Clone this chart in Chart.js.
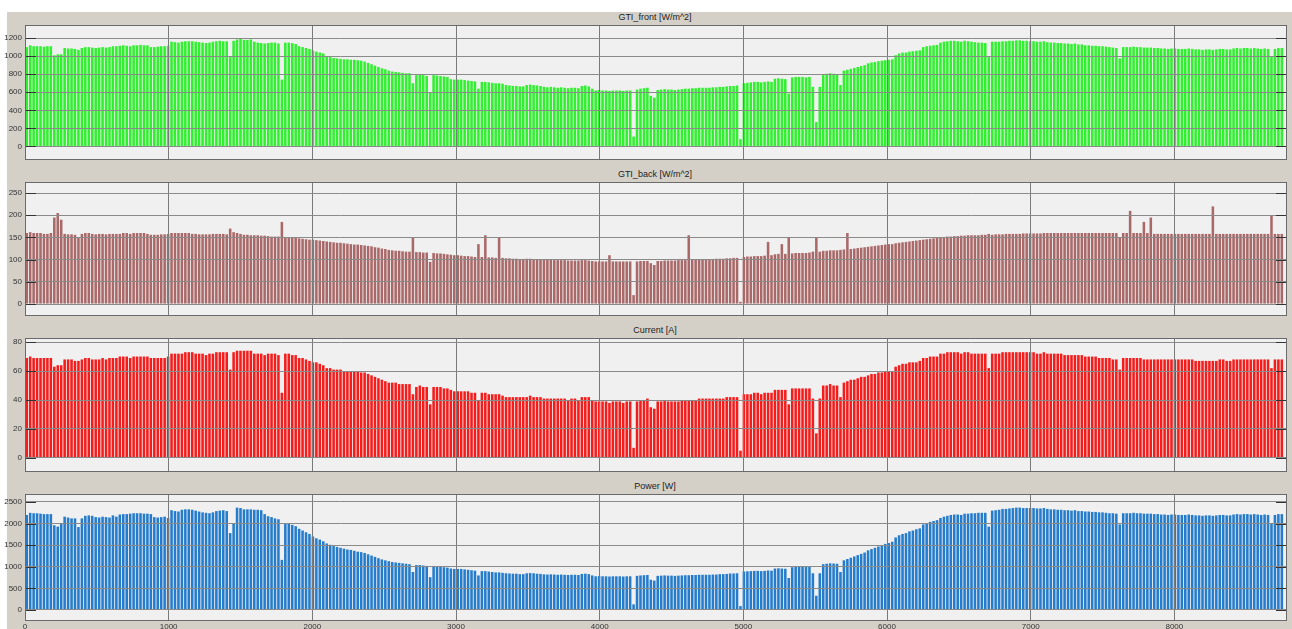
<!DOCTYPE html>
<html>
<head>
<meta charset="utf-8">
<title>GTI / Current / Power</title>
<script src="https://cdn.jsdelivr.net/npm/chart.js@4.4.1/dist/chart.umd.min.js"></script>
<style>
  html, body { margin: 0; padding: 0; background: #fff; width: 1292px; height: 629px; overflow: hidden; }
  #fig { position: absolute; left: 7px; top: 12px; width: 1285px; height: 617px; background: #d4d0c8; }
  .panel-title { position: absolute; left: 7px; width: 1296px; text-align: center; line-height: 10px;
                 font: 9px "Liberation Sans", Arial, sans-serif; color: #222; }
  canvas { position: absolute; left: 0; }
</style>
</head>
<body>
<div id="fig"></div>
<script>
// Daily peak values (365 days)
const gtiFront = [
  1100,1120,1110,1110,1110,1105,1110,1110, 1010,1020,1020, 1090,1085,1085,1080,1070,
  1090,1100,1100,1095,1090,1095,1100, 1095,1100,1110,1110,1115,1120,1115,1110,
  1120,1120,1125,1120,1120, 1100,1100,1105,1110,1110,1115,
  1160,1155,1150,1160,1165,1165,1165, 1160,1155,1150,1145,1150,1160,1165,1170,1165,1165, 990,
  1170,1185,1190,1180,1180,1185, 1160,1150,1145,1140,1145,1150,1150,1140, 740,
  1150,1150,1145,1135, 1110,1100,1090,1080, 1060,1050,1040,1030, 1000,990,980,975,
  970,965,965,960,960,955,950, 940,925,910,895,880,865,855, 840,830,825,820,815,810,810, 700,
  790,795,790,780, 600, 790,785,780,775,770, 745,740,740,740,735,730,725,720, 640,
  715,715,710,705,700,700,695, 680,675,670,670,665,665, 680,685,680,675,670,
  660,655,660,655,650,655,650,645,650,650,645, 670,675,665, 640,
  620,625,620,620,615,620,620,620,615,620,620, 110, 630,640,645,650, 560,540, 625,630,635,630,
  630,625,630,635,640,640,645,645,650,650,650,650,655,655,660,660,665,670,670,675, 80,
  700,705,710,715,715,710,715,720,715, 750,755,750,745, 585, 765,770,770,770,765,770,
  660,270,660, 800,805,810,805,800, 680, 840,850,860,870,880,890,900,
  920,930,935,945,950,955,960,965, 1010,1030,1040,1040,1050,1055,1060,1065,
  1100,1110,1115,1120,1125, 1150,1160,1165,1170,1170,1165,1160,1170,1165,
  1160,1155,1150,1150,1145, 990, 1160,1160,1160,1165,1165,1170,1170,1175,1175,1170,1170,
  1165,1165,1160,1160,1165,1155,1150, 1150,1145,1145,1140,1140,1135,1140,1130,1130,
  1120,1120,1115,1115,1110,1110,1105,1100, 1095,1090, 975,
  1100,1100,1100,1105,1100,1100,1095,1095,
  1095,1090,1090,1085,1085,1080,1085,1085,1080,1080,1080,1085,1080,1075,
  1075,1070,1075,1075,1070,1075,1080,1080,1075,1075,
  1085,1090,1085,1090,1090,1085,1090,1085,1080,1085,1080, 990, 1080,1090,1090
];

const gtiBack = [
  160,162,160,160,160,158,158,160, 195,205,190, 158,157,157,156,150,
  158,160,160,158,157,158,158, 157,158,158,158,158,160,160,158,
  160,160,160,160,158, 156,156,156,157,157,158,
  160,160,160,160,160,160,158, 158,157,157,157,157,158,158,158,158,157, 170,
  162,160,158,156,156,155, 155,155,154,154,153,152,152,152, 185,
  150,150,150,150, 148,147,146,145, 145,144,143,142, 141,140,139,138,
  138,137,136,135,134,134,133, 132,131,130,128,127,125,124, 122,121,120,120,119,118,118, 150,
  117,117,116,116, 95, 115,114,114,113,112, 111,110,110,109,108,108,107,106, 135,
  106,155,105,105,104,150,104, 103,103,102,102,101,101, 102,102,101,101,100,
  100,100,100,99,99,99,99,98,98,98,98, 99,99,98, 97,
  96,96,96,96,110,96,96,96,96,96,96, 20, 96,97,97,97, 92,88, 97,97,98,98,
  98,98,99,99,99,155,100,100,100,100,101,101,101,102,102,102,103,103,104,104, 5,
  106,107,107,108,108,108,109,140,110, 112,113,135,113, 150, 114,115,115,115,115,116,
  118,150,118, 120,120,121,121,121, 122, 123,160,124,125,126,127,128,
  129,130,131,132,133,134,135,135, 137,138,139,140,141,142,143,144,
  145,146,147,148,149, 150,151,152,152,153,153,154,154,155,
  155,155,155,156,156, 158, 156,157,157,157,158,158,158,158,158,159,159,
  159,159,159,159,160,160,160, 160,160,160,160,160,160,160,160,160,
  160,160,160,160,160,160,160,160, 160,160, 150,
  160,160,210,160,160,160,185,160,
  195,158,158,158,158,158,158,158,158,158,158,158,158,158,
  158,158,158,158,220,158,158,158,158,158,
  158,158,158,158,158,158,158,158,158,158,158, 200, 158,158,158
];

const current = [
  69,70,69,69,69,69,69,69, 63,64,64, 68,68,68,67,67,
  68,69,69,68,68,68,69, 68,69,69,69,70,70,70,69,
  70,70,70,70,70, 69,69,69,69,69,70,
  72,72,72,72,73,73,73, 72,72,72,71,72,72,73,73,73,73, 61,
  73,74,74,74,74,74, 72,72,72,71,72,72,72,71, 45,
  72,72,71,71, 69,69,68,67, 66,66,65,64, 62,62,61,61,
  61,60,60,60,60,60,59, 59,58,57,56,55,54,53, 52,52,52,51,51,51,51, 44,
  49,50,49,49, 37, 49,49,49,48,48, 47,46,46,46,46,46,45,45, 40,
  45,45,44,44,44,44,43, 42,42,42,42,42,42, 42,43,42,42,42,
  41,41,41,41,41,41,41,40,41,41,40, 42,42,42, 40,
  39,39,39,39,38,39,39,39,38,39,39, 7, 39,40,40,41, 35,34, 39,39,40,39,
  39,39,39,40,40,40,40,40,41,41,41,41,41,41,41,41,42,42,42,42, 5,
  44,44,44,45,45,44,45,45,45, 47,47,47,47, 37, 48,48,48,48,48,48,
  41,17,41, 50,50,51,50,50, 42, 52,53,54,54,55,56,56,
  57,58,58,59,59,60,60,60, 63,64,65,65,66,66,66,67,
  69,69,70,70,70, 72,72,73,73,73,73,72,73,73,
  72,72,72,72,72, 62, 72,72,72,73,73,73,73,73,73,73,73,
  73,73,72,72,73,72,72, 72,72,72,71,71,71,71,71,71,
  70,70,70,70,69,69,69,69, 68,68, 61,
  69,69,69,69,69,69,68,68,
  68,68,68,68,68,68,68,68,68,68,68,68,68,67,
  67,67,67,67,67,67,68,68,67,67,
  68,68,68,68,68,68,68,68,68,68,68, 62, 68,68,68
];

const power = [
  2200,2250,2240,2240,2230,2220,2220,2220, 1960,1930,2000, 2160,2140,2120,2120,1920,
  2120,2180,2190,2180,2150,2140,2160, 2150,2140,2190,2160,2210,2220,2220,2230,
  2240,2240,2240,2230,2230, 2220,2150,2140,2150,2160,2130,
  2310,2290,2280,2320,2330,2330,2320, 2300,2280,2260,2250,2240,2260,2290,2300,2310,2290, 1780,
  2010,2370,2360,2330,2330,2330, 2320,2320,2310,2220,2170,2150,2120,2100, 1160,
  1990,1990,1970,1940, 1880,1840,1800,1760, 1700,1660,1630,1590, 1540,1510,1480,1460,
  1440,1420,1400,1390,1370,1350,1340, 1320,1290,1260,1230,1200,1170,1150, 1130,1110,1100,1090,1080,1070,1060, 880,
  1040,1040,1030,1020, 760, 1020,1010,1000,990,980, 960,950,950,950,940,930,920,910, 800,
  900,900,890,880,870,870,860, 850,845,840,840,830,830, 850,855,850,840,835,
  825,820,825,820,815,820,815,810,815,815,810, 835,840,830, 800,
  780,785,780,780,775,780,780,780,775,780,780, 130, 790,800,805,810, 700,680, 790,795,800,795,
  795,790,795,800,805,805,810,810,815,815,815,815,820,820,830,830,835,845,845,850, 90,
  890,895,900,905,905,900,905,915,910, 960,965,960,955, 740, 990,1000,1000,1000,995,1000,
  850,330,850, 1060,1070,1080,1075,1070, 880, 1150,1180,1210,1240,1270,1300,1330,
  1380,1410,1440,1470,1500,1530,1550,1580, 1680,1730,1760,1780,1820,1840,1870,1890,
  1980,2010,2040,2060,2080, 2130,2160,2180,2200,2210,2210,2200,2230,2230,
  2240,2240,2250,2250,2250, 1930, 2300,2310,2320,2340,2340,2350,2360,2370,2370,2360,2360,
  2360,2360,2350,2350,2360,2340,2330, 2330,2320,2320,2310,2310,2300,2310,2290,2290,
  2280,2280,2270,2270,2260,2260,2250,2240, 2240,2230, 1980,
  2240,2240,2240,2250,2240,2240,2230,2230,
  2230,2220,2220,2210,2210,2200,2210,2210,2200,2200,2200,2210,2200,2190,
  2190,2180,2190,2190,2180,2190,2200,2200,2190,2190,
  2210,2220,2210,2220,2220,2210,2220,2210,2200,2210,2200, 2000, 2200,2220,2220
];

const panelTitles = ["GTI_front [W/m^2]", "GTI_back [W/m^2]", "Current [A]", "Power [W]"];
const yTicksFront = [0, 200, 400, 600, 800, 1000, 1200];
const yTicksBack = [0, 50, 100, 150, 200, 250];
const yTicksCurrent = [0, 20, 40, 60, 80];
const yTicksPower = [0, 500, 1000, 1500, 2000, 2500];
const xTicks = [0, 1000, 2000, 3000, 4000, 5000, 6000, 7000, 8000];
const X_MAX = 8784;

// ===============================
// layout of the four scope panels
// ===============================
const panels = [
  { data: gtiFront, ticks: yTicksFront, min: -150, max: 1345, color: "rgb(48,240,48)",  top: 25,  height: 135 },
  { data: gtiBack,  ticks: yTicksBack,  min: -27,  max: 275,  color: "rgb(170,105,105)", top: 182, height: 134 },
  { data: current,  ticks: yTicksCurrent, min: -9.7, max: 82.8, color: "rgb(245,28,28)", top: 338, height: 134 },
  { data: power,    ticks: yTicksPower, min: -255, max: 2685, color: "rgb(38,124,204)", top: 494, height: 127, xLabels: true }
];

// plot background, frame and the short inner tick marks
const scopeFrame = {
  id: "scopeFrame",
  beforeDraw(chart) {
    const { ctx, chartArea: a } = chart;
    ctx.save();
    ctx.fillStyle = "#f0f0f0";
    ctx.fillRect(a.left, a.top, a.right - a.left, a.bottom - a.top);
    ctx.restore();
  },
  afterDraw(chart) {
    const { ctx, chartArea: a } = chart;
    const y = chart.scales.y;
    ctx.save();
    ctx.strokeStyle = "#333";
    ctx.lineWidth = 1;
    y.ticks.forEach((t) => {
      const py = Math.round(y.getPixelForValue(t.value)) + 0.5;
      ctx.beginPath();
      ctx.moveTo(a.left, py); ctx.lineTo(a.left + 11, py);
      ctx.moveTo(a.right - 11, py); ctx.lineTo(a.right, py);
      ctx.stroke();
    });
    ctx.strokeStyle = "#6a6a6a";
    ctx.strokeRect(Math.round(a.left) + 0.5, Math.round(a.top) + 0.5,
                   Math.round(a.right - a.left) - 1, Math.round(a.bottom - a.top) - 1);
    ctx.restore();
  }
};

const tickFont = { family: "'Liberation Sans', Arial, sans-serif", size: 8 };
const plainLabel = (v) => String(v);

panels.forEach((p, i) => {
  const title = document.createElement("div");
  title.className = "panel-title";
  title.style.top = (p.top - 13) + "px";
  title.textContent = panelTitles[i];
  document.body.appendChild(title);

  const labelSpace = p.xLabels ? 8 : 0;
  const canvas = document.createElement("canvas");
  canvas.width = 1292;
  canvas.height = p.height + labelSpace;
  canvas.style.top = p.top + "px";
  document.body.appendChild(canvas);

  new Chart(canvas, {
    type: "bar",
    data: {
      datasets: [{
        data: p.data.map((v, d) => ({ x: d * 24 + 12, y: v })),
        backgroundColor: p.color,
        borderWidth: 0,
        barPercentage: 0.74,
        categoryPercentage: 1
      }]
    },
    options: {
      responsive: false,
      animation: false,
      devicePixelRatio: 1,
      layout: { padding: { left: 0, right: 5, top: 0, bottom: 0 } },
      plugins: { legend: { display: false }, tooltip: { enabled: false } },
      scales: {
        x: {
          type: "linear",
          offset: false,
          min: 0,
          max: X_MAX,
          afterBuildTicks: (s) => { s.ticks = xTicks.map((v) => ({ value: v })); },
          afterFit: (s) => { s.height = labelSpace; s.paddingLeft = 0; s.paddingRight = 0; },
          grid: { color: "#7a7a7a", lineWidth: 1, drawTicks: false, offset: false, z: 1 },
          border: { display: false },
          ticks: { display: !!p.xLabels, padding: 1, color: "#333", font: tickFont, maxRotation: 0,
                   callback: plainLabel }
        },
        y: {
          min: p.min,
          max: p.max,
          afterBuildTicks: (s) => { s.ticks = p.ticks.map((v) => ({ value: v })); },
          afterFit: (s) => { s.width = 25; s.paddingTop = 0; s.paddingBottom = 0; },
          grid: { color: "#8a8a8a", lineWidth: 1, drawTicks: false, z: 1 },
          border: { display: false },
          ticks: { padding: 3, color: "#333", font: tickFont, callback: plainLabel }
        }
      }
    },
    plugins: [scopeFrame]
  });
});
</script>
</body>
</html>
